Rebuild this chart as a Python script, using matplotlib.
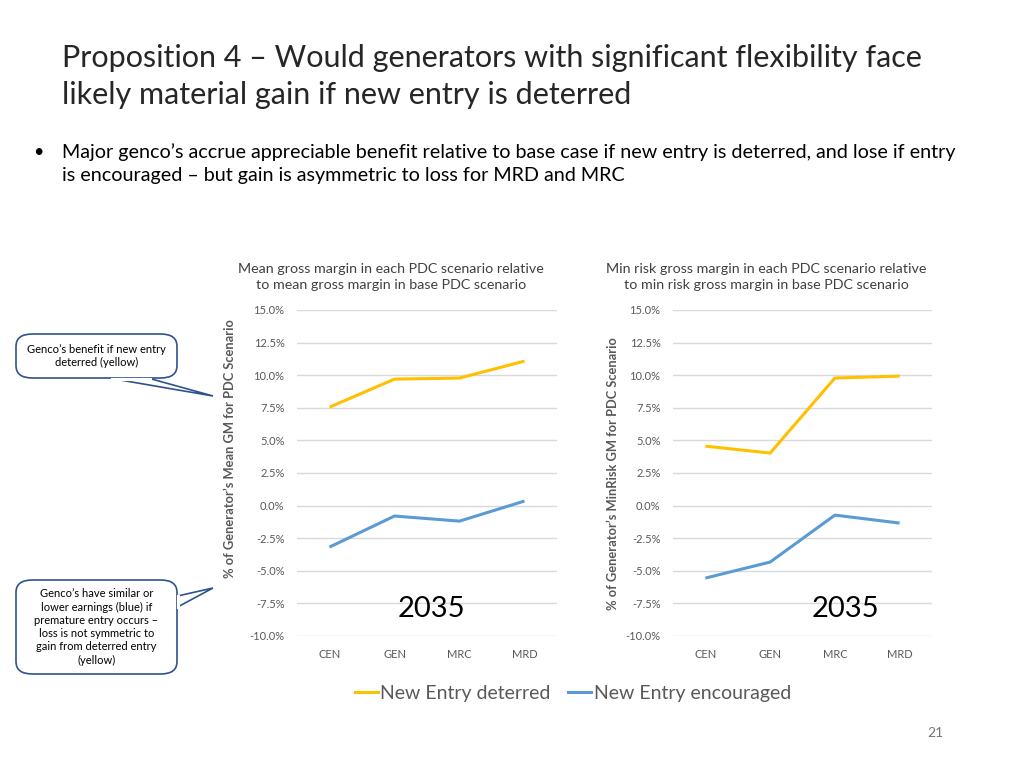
import matplotlib
matplotlib.use("Agg")
import matplotlib.pyplot as plt
from matplotlib.patches import FancyBboxPatch, Polygon
from matplotlib.lines import Line2D
from matplotlib.ticker import FuncFormatter, MultipleLocator

plt.rcParams['font.family'] = ['Lato', 'DejaVu Sans']

categories = ["CEN", "GEN", "MRC", "MRD"]
mean_deterred = [7.55, 9.70, 9.78, 11.08]
mean_encouraged = [-3.18, -0.80, -1.19, 0.35]
minrisk_deterred = [4.56, 4.03, 9.78, 9.93]
minrisk_encouraged = [-5.56, -4.33, -0.73, -1.34]

YELLOW = "#FFC000"
BLUE = "#5B9BD5"
GRID = "#D9D9D9"
TICK = "#595959"

W, H = 1024, 768
fig = plt.figure(figsize=(W / 100, H / 100), dpi=100)


def fx(x):
    return x / W


def fy(y):
    return 1 - y / H


def make_axes(left_px, right_px, title, title_x, ylabel, ylabel_x, ylabel_y,
              deterred, encouraged, year_x):
    ax = fig.add_axes([fx(left_px), fy(636), (right_px - left_px) / W, (636 - 310) / H])
    x = range(len(categories))
    ax.plot(x, deterred, color=YELLOW, lw=2.2, solid_capstyle='butt')
    ax.plot(x, encouraged, color=BLUE, lw=2.2, solid_capstyle='butt')
    ax.set_xlim(-0.5, len(categories) - 0.5)
    ax.set_ylim(-10, 15)
    ax.yaxis.set_major_locator(MultipleLocator(2.5))
    ax.yaxis.set_major_formatter(FuncFormatter(lambda v, p: f"{v:.1f}%"))
    ax.set_xticks(list(x))
    ax.set_xticklabels(categories)
    ax.grid(axis='y', color=GRID, lw=1)
    ax.set_axisbelow(True)
    for s in ax.spines.values():
        s.set_visible(False)
    ax.tick_params(length=0, colors=TICK, labelsize=8)
    ax.tick_params(axis='y', pad=9)
    ax.tick_params(axis='x', pad=9)
    fig.text(fx(ylabel_x), fy(ylabel_y), ylabel, color=TICK, fontsize=9.3, fontweight='bold',
             rotation=90, ha='center', va='center')
    fig.text(fx(title_x), fy(277), title, color="#404040", fontsize=10.3,
             ha='center', va='center', linespacing=1.45)
    ax.text(year_x, -7.95, "2035", fontsize=21, color="black", ha='center', va='center')
    return ax


make_axes(297, 557,
          "Mean gross margin in each PDC scenario relative\nto mean gross margin in base PDC scenario",
          391, "% of Generator’s Mean GM for PDC Scenario", 230, 449,
          mean_deterred, mean_encouraged, 1.57)
make_axes(673, 932,
          "Min risk gross margin in each PDC scenario relative\nto min risk gross margin in base PDC scenario",
          766, "% of Generator’s MinRisk GM for PDC Scenario", 613, 474,
          minrisk_deterred, minrisk_encouraged, 2.16)

# Title
fig.text(fx(62), fy(58), "Proposition 4 – Would generators with significant flexibility face",
         fontsize=22, color="#262626", va='center', ha='left')
fig.text(fx(62), fy(95), "likely material gain if new entry is deterred",
         fontsize=22, color="#262626", va='center', ha='left')

# Bullet
fig.text(fx(33), fy(152), "•", fontsize=13, color="black", va='center')
fig.text(fx(62), fy(152), "Major genco’s accrue appreciable benefit relative to base case if new entry is deterred, and lose if entry",
         fontsize=14.2, color="black", va='center')
fig.text(fx(62), fy(175), "is encouraged – but gain is asymmetric to loss for MRD and MRC",
         fontsize=14.2, color="black", va='center')

# Legend
legend_handles = [Line2D([], [], color=YELLOW, lw=2.2), Line2D([], [], color=BLUE, lw=2.2)]
fig.legend(legend_handles, ["New Entry deterred", "New Entry encouraged"],
           loc='center', bbox_to_anchor=(fx(573), fy(693)), ncol=2, frameon=False,
           fontsize=14, labelcolor=TICK, handlelength=1.15, handletextpad=0.15, columnspacing=0.9)

# Page number
fig.text(fx(935), fy(733), "21", fontsize=10, color="#757575", ha='center', va='center')

# Callouts
EDGE = "#2F528F"


def callout(x0, y0, x1, y1, tail, base, lines_text, center_y):
    box = FancyBboxPatch((fx(x0), fy(y1)), fx(x1 - x0), (y1 - y0) / H,
                         boxstyle="round,pad=0,rounding_size=0.016",
                         transform=fig.transFigure, facecolor='white', edgecolor=EDGE, lw=1.2,
                         zorder=5)
    fig.patches.append(box)
    pts = [(fx(base[0][0]), fy(base[0][1])), (fx(tail[0]), fy(tail[1])),
           (fx(base[1][0]), fy(base[1][1]))]
    tri = Polygon(pts, closed=False, transform=fig.transFigure, facecolor='white',
                  edgecolor=EDGE, lw=1.2, zorder=6)
    fig.patches.append(tri)
    cover = Line2D([pts[0][0], pts[2][0]], [pts[0][1], pts[2][1]], transform=fig.transFigure,
                   color='white', lw=2.2, zorder=7)
    fig.lines.append(cover)
    fig.text(fx((x0 + x1) / 2), fy(center_y), lines_text, fontsize=8, color="black",
             ha='center', va='center', linespacing=1.25, zorder=8)


callout(16, 334, 177, 378, (213, 396), [(112, 378.6), (150, 378.6)],
        "Genco’s benefit if new entry\ndeterred (yellow)", 356)
callout(16, 580, 177, 674, (213, 588), [(177.6, 596), (177.6, 607)],
        "Genco’s have similar or\nlower earnings (blue) if\npremature entry occurs –\nloss is not symmetric to\ngain from deterred entry\n(yellow)", 627)

fig.savefig("out.png", dpi=100)
